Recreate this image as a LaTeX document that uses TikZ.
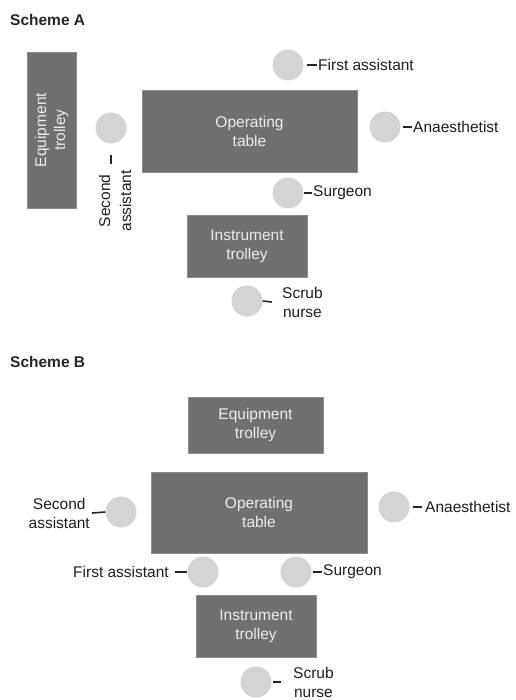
\documentclass[tikz,border=0pt]{standalone}
\usepackage{fontspec}
\setmainfont{Liberation Sans}
\definecolor{boxgray}{RGB}{112,112,112}
\definecolor{circgray}{RGB}{212,212,212}
\definecolor{boxtext}{RGB}{236,236,236}
\definecolor{labeltext}{RGB}{30,30,30}
\begin{document}
\begin{tikzpicture}[x=1pt,y=-1pt,
  every node/.style={font=\fontsize{15.5}{19}\selectfont},
  box/.style={draw=boxgray!80!white, line width=0.6pt, fill=boxgray, text=boxtext, align=center, inner sep=0pt},
  person/.style={circle, fill=circgray, draw=none, minimum size=31pt, inner sep=0pt},
  lbl/.style={text=labeltext, align=center, inner sep=0pt},
  tick/.style={draw=black!85, line width=1.6pt},
  title/.style={font=\fontsize{15.5}{19}\selectfont\bfseries, text=black!85, inner sep=0pt, anchor=west}]
\useasboundingbox (0,0) rectangle (515,700);

% ---------------- Scheme A ----------------
\node[title] (titleA) at (10,20) {Scheme A};
\node[box, rotate=90, minimum width=156pt, minimum height=49pt] (etA) at (51.5,130) {Equipment\\trolley};
\node[box, minimum width=215pt, minimum height=82pt] (otA) at (249.5,131) {Operating\\table};
\node[box, minimum width=120pt, minimum height=62pt] (itA) at (247,246) {Instrument\\trolley};

\node[person] (saA) at (111,128) {};
\node[lbl, rotate=90, font=\fontsize{15.5}{21}\selectfont] (saAl) at (115,201) {Second\\assistant};
\coordinate (saAt) at ([yshift=-11pt]saA.south);
\draw[tick] (saAt) -- ++(0,9);

\node[person] (faA) at (288,65) {};
\node[lbl, anchor=west] (faAl) at (318,65) {First assistant};
\draw[tick] ([xshift=3pt]faA.east) -- ([xshift=-1pt]faAl.west);

\node[person] (anA) at (385,127) {};
\node[lbl, anchor=west] (anAl) at (413,127) {Anaesthetist};
\draw[tick] ([xshift=2pt]anA.east) -- ([xshift=-1pt]anAl.west);

\node[person] (suA) at (288,193) {};
\node[lbl, anchor=west] (suAl) at (313,193) {Surgeon};
\draw[tick] ([xshift=0.5pt]suA.east) -- ([xshift=-1pt]suAl.west);

\node[person] (scA) at (247,301) {};
\node[lbl, anchor=west] (scAl) at (282,302) {Scrub\\nurse};
\draw[tick] (scA.east) -- ([xshift=-10pt]scAl.west);

% ---------------- Scheme B ----------------
\node[title] (titleB) at (10,362) {Scheme B};
\node[box, minimum width=135pt, minimum height=56pt] (etB) at (255.5,425) {Equipment\\trolley};
\node[box, minimum width=216pt, minimum height=81pt] (otB) at (259,512.5) {Operating\\table};
\node[box, minimum width=120pt, minimum height=62pt] (itB) at (256,626) {Instrument\\trolley};

\node[person] (saB) at (121,512) {};
\node[lbl, anchor=east] (saBl) at (90,513) {Second\\assistant};
\draw[tick] (saB.west) -- ([xshift=2pt]saBl.east);

\node[person] (anB) at (394,507) {};
\node[lbl, anchor=west] (anBl) at (425,507) {Anaesthetist};
\draw[tick] ([xshift=3pt]anB.east) -- ([xshift=-3pt]anBl.west);

\node[person] (faB) at (203,572) {};
\node[lbl, anchor=east] (faBl) at (169,572) {First assistant};
\draw[tick] ([xshift=6pt]faBl.east) -- ([xshift=-0.5pt]faB.west);

\node[person] (suB) at (296,572) {};
\node[lbl, anchor=west] (suBl) at (323,572) {Surgeon};
\draw[tick] ([xshift=1pt]suB.east) -- ([xshift=-1pt]suBl.west);

\node[person] (scB) at (256,682) {};
\node[lbl, anchor=west] (scBl) at (293,682) {Scrub\\nurse};
\draw[tick] ([xshift=1pt]scB.east) -- ([xshift=-12pt]scBl.west);
\end{tikzpicture}
\end{document}
